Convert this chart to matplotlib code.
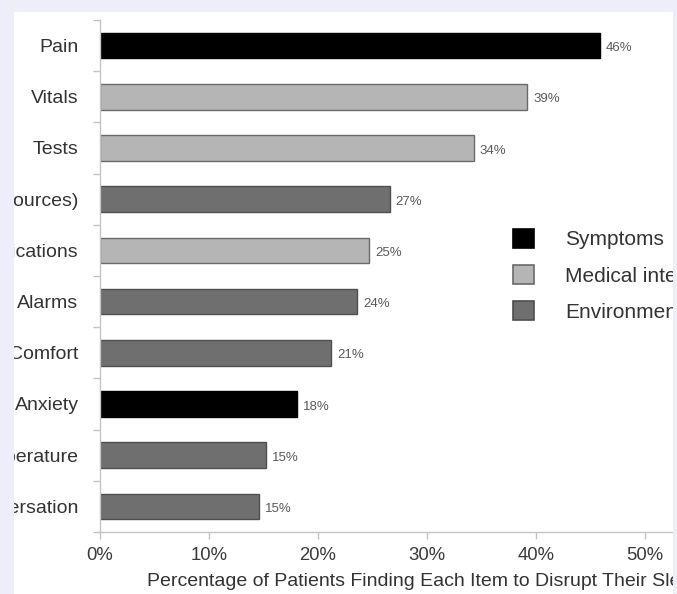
import matplotlib.pyplot as plt
from matplotlib.patches import Patch, Rectangle

plt.rcParams['font.family'] = ['Liberation Sans', 'DejaVu Sans']

# items, top to bottom
items = ["Pain", "Vitals", "Tests", "Noise (other sources)", "Medications",
         "Alarms", "Comfort", "Anxiety", "Temperature", "Conversation"]
percent = [45.9, 39.2, 34.3, 26.6, 24.7, 23.6, 21.2, 18.1, 15.2, 14.6]
group = ["Symptoms", "Medical interventions", "Medical interventions",
         "Environmental", "Medical interventions", "Environmental",
         "Environmental", "Symptoms", "Environmental", "Environmental"]

groups = ["Symptoms", "Medical interventions", "Environmental"]
fill = {"Symptoms": "#000000", "Medical interventions": "#b5b5b5",
        "Environmental": "#6f6f6f"}
edge = {"Symptoms": "#000000", "Medical interventions": "#6a6a6a",
        "Environmental": "#4e4e4e"}

W, H = 677, 594
fig = plt.figure(figsize=(W / 100, H / 100), dpi=100, facecolor="white")
ax = fig.add_axes([100 / W, 62 / H, 572 / W, 512 / H])

pos = list(range(len(items)))
ax.barh(pos, percent, height=0.5,
        color=[fill[g] for g in group],
        edgecolor=[edge[g] for g in group], linewidth=1)

for y, v in zip(pos, percent):
    ax.text(v + 0.55, y + 0.05, f"{v:.0f}%", va="center", ha="left",
            fontsize=9.5, color="#5a5a5a")

ax.set_ylim(len(items) - 0.5, -0.5)
ax.set_xlim(0, 52.5)

# category labels on the major ticks, tick marks between categories
ax.set_yticks(pos)
ax.set_yticklabels(items, fontsize=14, color="#333333")
ax.set_yticks([p - 0.5 for p in pos] + [len(items) - 0.5], minor=True)
ax.tick_params(axis="y", which="major", length=0, pad=15.5)
ax.tick_params(axis="y", which="minor", length=5, width=1, color="#c4c4c4")

ax.set_xticks([0, 10, 20, 30, 40, 50])
ax.set_xticklabels(["0%", "10%", "20%", "30%", "40%", "50%"],
                   fontsize=13.3, color="#3a3a3a")
ax.tick_params(axis="x", length=5, width=1, color="#c4c4c4", pad=6)

for s in ["top", "right"]:
    ax.spines[s].set_visible(False)
for s in ["left", "bottom"]:
    ax.spines[s].set_color("#c4c4c4")
    ax.spines[s].set_linewidth(1)

ax.set_xlabel("Percentage of Patients Finding Each Item to Disrupt Their Sleep",
              fontsize=14, color="#333333", ha="left", va="center")
ax.xaxis.set_label_coords((147 - 100) / 572, -(582 - 532) / 512)

handles = [Patch(facecolor=fill[g], edgecolor=edge[g], linewidth=1.2)
           for g in groups]
ax.legend(handles, groups, loc="upper left", frameon=False,
          bbox_to_anchor=(513 / W, 1 - 229 / H),
          bbox_transform=fig.transFigure, fontsize=15,
          handlelength=1.0, handleheight=1.0, handletextpad=1.5,
          labelspacing=0.75, borderpad=0, borderaxespad=0,
          labelcolor="#333333")

# page border around the chart area
bg = "#eeeefa"
for x0, y0, w, h in [(0, H - 12, W, 12), (0, 0, 14, H), (673, 0, W - 673, H)]:
    fig.add_artist(Rectangle((x0 / W, y0 / H), w / W, h / H,
                             transform=fig.transFigure, facecolor=bg,
                             edgecolor="none", zorder=10))

fig.savefig("out.png", dpi=100, facecolor=fig.get_facecolor())
